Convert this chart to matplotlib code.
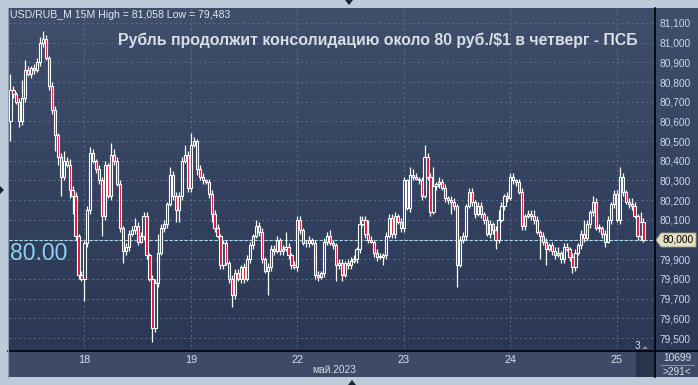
import numpy as np
import matplotlib
matplotlib.use("Agg")
import matplotlib.pyplot as plt
from matplotlib.patches import Rectangle, Polygon
from matplotlib.lines import Line2D

# 15-минутные свечи USD/RUB_M, 17.05 (конец) - 25.05.2023
closes = [
    80.76, 80.74, 80.70, 80.60, 80.72, 80.86, 80.84, 80.87, 80.86, 80.90,
    81.00, 81.02, 80.92, 80.78, 80.66, 80.53, 80.42, 80.32, 80.40, 80.38,
    80.25, 80.22, 80.02, 79.82, 79.80, 79.98, 80.15, 80.44, 80.40, 80.36,
    80.30, 80.12, 80.38, 80.22, 80.43, 80.40, 80.28, 80.06, 79.94, 79.96,
    80.03, 80.05, 80.07, 79.99, 80.02, 80.12, 79.92, 79.80, 79.55, 79.78,
    79.93, 80.06, 80.08, 80.18, 80.33, 80.22, 80.15, 80.22, 80.40, 80.43,
    80.26, 80.48, 80.50, 80.36, 80.32, 80.30, 80.29, 80.23, 80.13, 80.06,
    80.02, 79.87, 79.98, 79.88, 79.80, 79.72, 79.83, 79.80, 79.86, 79.80,
    79.90, 79.97, 80.02, 80.07, 80.04, 79.90, 79.84, 79.86, 79.95, 79.94,
    80.00, 79.94, 79.95, 79.96, 79.92, 79.87, 79.86, 80.10, 80.05, 79.98,
    79.98, 80.00, 79.98, 79.82, 79.81, 79.83, 79.99, 80.02, 79.98, 79.97,
    79.87, 79.88, 79.82, 79.88, 79.87, 79.89, 79.90, 79.95, 80.08, 80.10,
    80.03, 80.00, 79.99, 79.93, 79.91, 79.91, 79.92, 80.02, 80.11, 80.03,
    80.12, 80.09, 80.06, 80.30, 80.16, 80.33, 80.32, 80.31, 80.30, 80.22,
    80.42, 80.32, 80.14, 80.27, 80.28, 80.29, 80.26, 80.21, 80.20, 80.19,
    80.17, 79.87, 80.00, 80.02, 80.17, 80.24, 80.19, 80.13, 80.17, 80.13,
    80.10, 80.03, 80.08, 80.05, 80.00, 80.10, 80.17, 80.22, 80.21, 80.32,
    80.30, 80.29, 80.24, 80.07, 80.12, 80.13, 80.12, 80.10, 80.04, 80.02,
    79.99, 79.95, 79.97, 79.94, 79.92, 79.93, 79.90, 79.96, 79.95, 79.91,
    79.86, 79.93, 79.97, 80.03, 80.01, 80.08, 80.14, 80.19, 80.06, 80.06,
    80.03, 79.99, 80.10, 80.18, 80.23, 80.10, 80.32, 80.24, 80.19, 80.18,
    80.17, 80.12, 80.02, 80.09, 80.00,
]
first_open = 80.60

# длина теней в копейках
upper_wick = [
    8, 2, 1, 2, 9, 5, 2, 1, 2, 2,
    3, 4, 2, 1, 2, 2, 1, 2, 5, 2,
    3, 2, 2, 1, 2, 2, 2, 3, 2, 1,
    2, 2, 2, 1, 6, 3, 2, 2, 1, 2,
    2, 2, 4, 2, 2, 2, 2, 1, 2, 2,
    10, 2, 2, 1, 4, 2, 2, 2, 2, 5,
    2, 6, 2, 1, 2, 2, 1, 2, 2, 2,
    2, 1, 2, 2, 1, 2, 2, 2, 1, 2,
    2, 2, 1, 3, 2, 2, 1, 2, 2, 2,
    2, 1, 2, 8, 2, 1, 2, 2, 2, 1,
    2, 2, 1, 2, 2, 1, 2, 2, 3, 2,
    1, 2, 2, 1, 2, 2, 2, 1, 4, 2,
    2, 7, 2, 1, 2, 2, 1, 2, 2, 2,
    2, 1, 2, 2, 1, 4, 3, 2, 1, 2,
    6, 2, 2, 10, 1, 3, 2, 2, 1, 2,
    2, 1, 2, 2, 1, 2, 2, 1, 2, 2,
    1, 2, 2, 1, 2, 5, 2, 1, 2, 2,
    2, 1, 2, 2, 1, 2, 2, 3, 2, 1,
    2, 2, 1, 2, 2, 3, 1, 2, 2, 1,
    2, 2, 1, 2, 7, 2, 1, 3, 2, 2,
    1, 2, 2, 1, 2, 2, 5, 2, 1, 2,
    3, 2, 1, 5, 2,
]
lower_wick = [
    10, 2, 1, 3, 2, 2, 1, 2, 2, 1,
    2, 2, 1, 2, 2, 8, 4, 10, 2, 1,
    4, 9, 2, 2, 1, 11, 2, 2, 1, 2,
    2, 10, 2, 1, 2, 2, 1, 2, 6, 2,
    2, 1, 2, 2, 1, 2, 2, 1, 7, 2,
    2, 1, 2, 2, 1, 2, 6, 6, 2, 1,
    2, 2, 1, 3, 2, 2, 1, 2, 4, 2,
    1, 2, 2, 1, 2, 6, 2, 1, 2, 2,
    1, 2, 2, 1, 2, 2, 1, 12, 2, 2,
    1, 2, 2, 1, 2, 2, 1, 2, 2, 1,
    2, 2, 1, 2, 2, 1, 2, 2, 1, 2,
    8, 2, 3, 1, 2, 2, 1, 2, 2, 1,
    2, 2, 1, 2, 2, 1, 4, 2, 1, 2,
    2, 1, 2, 2, 1, 2, 2, 1, 2, 2,
    1, 2, 2, 1, 2, 2, 1, 2, 2, 6,
    2, 11, 1, 2, 2, 1, 2, 2, 1, 2,
    2, 1, 2, 2, 5, 2, 1, 2, 2, 1,
    2, 2, 1, 2, 2, 1, 2, 2, 1, 12,
    2, 8, 1, 2, 2, 1, 2, 2, 1, 2,
    3, 2, 1, 2, 2, 1, 2, 2, 1, 2,
    2, 3, 1, 2, 2, 1, 2, 2, 1, 2,
    2, 1, 2, 2, 1,
]

day_starts = [25, 61, 97, 133, 169, 205]
day_labels = ['18', '19', '22', '23', '24', '25']
price_ticks = [79.5, 79.6, 79.7, 79.8, 79.9, 80.0, 80.1, 80.2,
               80.3, 80.4, 80.5, 80.6, 80.7, 80.8, 80.9, 81.0, 81.1]
last_price = 80.0

W, H = 698, 385


def fx(px):
    return px / W


def fy(py):
    return 1 - py / H


fig = plt.figure(figsize=(W / 100, H / 100), dpi=100)
fig.patch.set_facecolor('#bccada')

# фон с градиентом
bg = fig.add_axes([fx(8), fy(351), fx(698) - fx(8), fy(8) - fy(351)])
grad = np.linspace(0, 1, 256).reshape(-1, 1)
top_c = np.array([0x3f, 0x4e, 0x6b]) / 255
bot_c = np.array([0x2a, 0x38, 0x55]) / 255
img = top_c[None, None, :] * (1 - grad[:, :, None]) + bot_c[None, None, :] * grad[:, :, None]
bg.imshow(img, aspect='auto', extent=[0, 1, 0, 1])
bg.axis('off')

# полоса дат
strip = fig.add_axes([fx(8), fy(377), fx(698) - fx(8), fy(351) - fy(377)])
strip.set_facecolor('#3d4b67')
strip.set_xticks([])
strip.set_yticks([])
for s in strip.spines.values():
    s.set_visible(False)

ax = fig.add_axes([fx(9), fy(351), fx(655) - fx(9), fy(8) - fy(351)])
ax.set_facecolor('none')
ax.set_xlim(-0.5, 217.9)
ax.set_ylim(79.434, 81.176)
for s in ax.spines.values():
    s.set_visible(False)

grid_kw = dict(color='#5d6d8b', lw=0.7, ls=(0, (2, 3)), zorder=1)
for p in price_ticks:
    ax.axhline(p, **grid_kw)
for d in day_starts:
    ax.axvline(d, **grid_kw)

ax.axhline(last_price, color='#a6dcf2', lw=0.8, ls=(0, (3, 1.5)), zorder=2)

opens = [first_open] + closes[:-1]
bull_face = '#34425f'
bear_face = '#e0103c'
for i, (o, c) in enumerate(zip(opens, closes)):
    hi = max(o, c) + upper_wick[i] / 100
    lo = min(o, c) - lower_wick[i] / 100
    ax.vlines(i, lo, hi, color='white', lw=0.9, zorder=3)
    bottom = min(o, c)
    height = max(abs(c - o), 0.004)
    face = bear_face if c < o else bull_face
    ax.add_patch(Rectangle((i - 0.37, bottom), 0.74, height, facecolor=face,
                           edgecolor='white', lw=0.8, zorder=4))

narrow = ['Liberation Sans Narrow', 'Liberation Sans', 'DejaVu Sans']

# подпись 80,000 закрыта меткой последней цены
ax.set_yticks(price_ticks)
ax.set_yticklabels(['' if p == last_price else f"{p:.3f}".replace('.', ',')
                    for p in price_ticks])
ax.yaxis.set_ticks_position('right')
ax.tick_params(axis='y', length=0, pad=3, labelsize=7.3, labelcolor='#cbd8ec')
for t in ax.get_yticklabels():
    t.set_family(narrow)

ax.set_xticks(day_starts)
ax.set_xticklabels(day_labels)
ax.tick_params(axis='x', length=0, pad=3, labelsize=7.8, labelcolor='#d8dfec')
for t in ax.get_xticklabels():
    t.set_family(narrow)

# рамки
fig.add_artist(Line2D([fx(655), fx(655)], [fy(8), fy(377)], color='black', lw=1.2))
fig.add_artist(Line2D([fx(8), fx(698)], [fy(351), fy(351)], color='black', lw=1.2))
fig.add_artist(Line2D([fx(8), fx(8)], [fy(8), fy(377)], color='#8a9ab0', lw=0.8))
fig.add_artist(Rectangle((fx(636), fy(377)), fx(655) - fx(636), fy(351) - fy(377),
                         transform=fig.transFigure, facecolor='#28344c', edgecolor='none'))

fig.text(fx(10), fy(18), 'USD/RUB_M 15M High = 81,058 Low = 79,483',
         fontsize=7.6, color='#e2e8f3', family=['Liberation Sans', 'DejaVu Sans'])
fig.text(fx(638), fy(44.5), 'Рубль продолжит консолидацию около 80 руб./$1 в четверг - ПСБ',
         fontsize=11.4, color='#d9dde4', ha='right', va='baseline', weight='bold',
         family=['Liberation Sans', 'DejaVu Sans'])
fig.text(fx(10), fy(253), '80.00', fontsize=16.5, color='#8fd0ee', va='center',
         family=['Liberation Sans', 'DejaVu Sans'])

# метка последней цены
y0 = fy(240)
fig.add_artist(Polygon([(fx(656), y0), (fx(661), fy(233)), (fx(696), fy(233)),
                        (fx(696), fy(247)), (fx(661), fy(247))], closed=True,
                       transform=fig.transFigure, facecolor='#e4e0c3', edgecolor='#9a987e', lw=0.6))
fig.text(fx(678), y0, '80,000', fontsize=7.3, color='black', ha='center', va='center', family=narrow)

fig.text(fx(334), fy(370), 'май.2023', fontsize=7.3, color='#d8dfec', ha='center', va='center', family=narrow)
fig.text(fx(677), fy(358), '10699', fontsize=7.3, color='#d8dfec', ha='center', va='center', family=narrow)
fig.add_artist(Line2D([fx(661), fx(694)], [fy(364.5), fy(364.5)], color='#8090aa', lw=0.8))
fig.text(fx(677), fy(372), '>291<', fontsize=7.3, color='#d8dfec', ha='center', va='center', family=narrow)
fig.text(fx(637), fy(346), '3', fontsize=7.3, color='#d8dfec', ha='center', va='center', family=narrow)

# маленькие треугольники по краям
tri = '#1b2436'
fig.add_artist(Polygon([(fx(345), fy(0)), (fx(353), fy(0)), (fx(349), fy(5))],
                       transform=fig.transFigure, facecolor=tri, edgecolor='none'))
fig.add_artist(Polygon([(fx(348), fy(385)), (fx(356), fy(385)), (fx(352), fy(380))],
                       transform=fig.transFigure, facecolor=tri, edgecolor='none'))
fig.add_artist(Polygon([(fx(0), fy(186)), (fx(0), fy(194)), (fx(4), fy(190))],
                       transform=fig.transFigure, facecolor=tri, edgecolor='none'))
fig.add_artist(Polygon([(fx(642), fy(349)), (fx(648), fy(349)), (fx(645), fy(346))],
                       transform=fig.transFigure, facecolor='#7f8ba0', edgecolor='none'))

fig.savefig('out.png', dpi=100, facecolor=fig.get_facecolor())
